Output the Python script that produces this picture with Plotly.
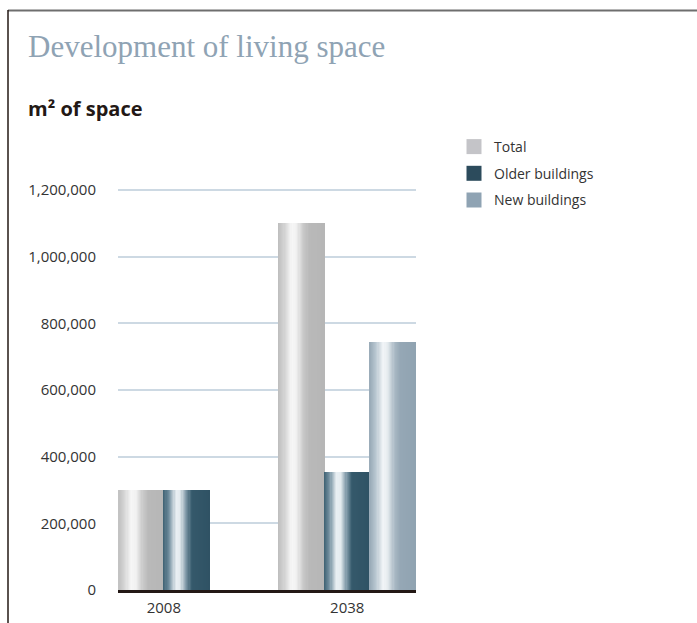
import plotly.graph_objects as go

# ---- data ----
categories = ["2008", "2038"]
series_names = ["Total", "Older buildings", "New buildings"]
total_vals = [300000, 1100000]
older_vals = [300000, 355000]
new_vals = [None, 745000]
y_ticks = [0, 200000, 400000, 600000, 800000, 1000000, 1200000]

# ---- style ----
W, H = 697, 623
PL, PR, PT, PB = 118, 416, 186, 590  # plot area in pixels
Y_TOP = 1212000      # a little headroom so the top gridline is drawn
SLOT = 0.25          # width of one bar in category units
N_STRIPS = 40        # strips used to shade each bar like a cylinder

legend_colors = ["#c4c4c8", "#2c4b5c", "#8fa3b3"]
gradients = [
    [(0.0, "#bdbdbd"), (0.14, "#d2d2d2"), (0.30, "#f6f6f6"), (0.40, "#f2f2f2"),
     (0.55, "#cacaca"), (0.68, "#b9b9b9"), (1.0, "#b6b6b6")],
    [(0.0, "#3d6072"), (0.12, "#6f8c9c"), (0.28, "#e9eff3"), (0.37, "#e4ebef"),
     (0.50, "#7d97a6"), (0.62, "#35596b"), (1.0, "#2f5264")],
    [(0.0, "#98aab7"), (0.14, "#b8c6d0"), (0.30, "#f3f6f8"), (0.40, "#e3e9ed"),
     (0.55, "#a8b8c3"), (0.68, "#95a7b5"), (1.0, "#90a3b1")],
]


def hex_rgb(h):
    h = h.lstrip("#")
    return tuple(int(h[i:i + 2], 16) for i in (0, 2, 4))


def shade(stops, t):
    for (t0, c0), (t1, c1) in zip(stops, stops[1:]):
        if t0 <= t <= t1:
            f = (t - t0) / (t1 - t0) if t1 > t0 else 0
            a, b = hex_rgb(c0), hex_rgb(c1)
            r = [round(a[i] + (b[i] - a[i]) * f) for i in range(3)]
            return "rgb(%d,%d,%d)" % tuple(r)
    return stops[-1][1]


def px_x(p):
    return (p - PL) / (PR - PL)


def px_y(p):
    return (PB - p) / (PB - PT)


all_series = [total_vals, older_vals, new_vals]

fig = go.Figure()

# bar positions: the bars present in each category are grouped around it
positions = {}
for ci, cat in enumerate(categories):
    present = [si for si, s in enumerate(all_series) if s[ci] is not None]
    n = len(present)
    for k, si in enumerate(present):
        left = ci - n * SLOT / 2 + k * SLOT
        positions[(si, ci)] = left

strip_w = SLOT / N_STRIPS
for si, vals in enumerate(all_series):
    xs, ys, cols = [], [], []
    for ci, v in enumerate(vals):
        if v is None:
            continue
        left = positions[(si, ci)]
        for j in range(N_STRIPS):
            t = (j + 0.5) / N_STRIPS
            xs.append(left + (j + 0.5) * strip_w)
            ys.append(v)
            cols.append(shade(gradients[si], t))
    fig.add_trace(go.Bar(
        x=xs, y=ys, width=strip_w * 1.35, base=0,
        marker=dict(color=cols, line=dict(width=0)),
        showlegend=False, hoverinfo="skip", name=series_names[si],
    ))

# legend entries
for si, name in enumerate(series_names):
    fig.add_trace(go.Scatter(
        x=[None], y=[None], mode="markers", name=name,
        legendgroup=name,
        marker=dict(symbol="square", size=15, color=legend_colors[si]),
    ))

fig.update_layout(
    width=W, height=H,
    margin=dict(l=PL, r=W - PR, t=PT, b=H - PB, pad=0, autoexpand=False),
    paper_bgcolor="white", plot_bgcolor="white",
    barmode="overlay", bargap=0,
    font=dict(family="Open Sans, sans-serif", size=15, color="#333333"),
    xaxis=dict(
        range=[-2 * SLOT / 2, 1 + 3 * SLOT / 2],
        tickvals=list(range(len(categories))), ticktext=categories,
        showgrid=False, zeroline=False,
        showline=True, linecolor="#231815", linewidth=3,
        ticks="outside", ticklen=2, tickcolor="rgba(0,0,0,0)",
        tickfont=dict(size=15, color="#333333"),
        automargin=False, fixedrange=True,
    ),
    yaxis=dict(
        range=[0, Y_TOP], tickvals=y_ticks,
        tickformat=",d",
        showgrid=True, gridcolor="#cdd9e3", gridwidth=1.5,
        zeroline=False, showline=False,
        ticks="outside", ticklen=18, tickcolor="rgba(0,0,0,0)",
        tickfont=dict(size=15, color="#333333"),
        automargin=False, fixedrange=True,
    ),
    legend=dict(
        x=px_x(454), y=px_y(131), xanchor="left", yanchor="top",
        font=dict(size=14, color="#333333"),
        bgcolor="rgba(0,0,0,0)", tracegroupgap=5.5,
        itemsizing="trace",
    ),
    showlegend=True,
    annotations=[
        dict(text="Development of living space", xref="paper", yref="paper",
             x=px_x(26), y=px_y(47), xanchor="left", yanchor="middle",
             showarrow=False,
             font=dict(family="Liberation Serif, serif", size=31, color="#8fa3b4")),
        dict(text="<b>m² of space</b>", xref="paper", yref="paper",
             x=px_x(26), y=px_y(108), xanchor="left", yanchor="middle",
             showarrow=False,
             font=dict(family="Open Sans, sans-serif", size=20, color="#231815")),
    ],
    shapes=[
        dict(type="line", xref="paper", yref="paper",
             x0=px_x(8), x1=px_x(W), y0=px_y(10.5), y1=px_y(10.5),
             line=dict(color="#6e6e6e", width=2)),
        dict(type="line", xref="paper", yref="paper",
             x0=px_x(8), x1=px_x(8), y0=px_y(10), y1=px_y(H),
             line=dict(color="#231815", width=1.5)),
    ],
)

fig.write_html("out.html", config={"displayModeBar": False})
